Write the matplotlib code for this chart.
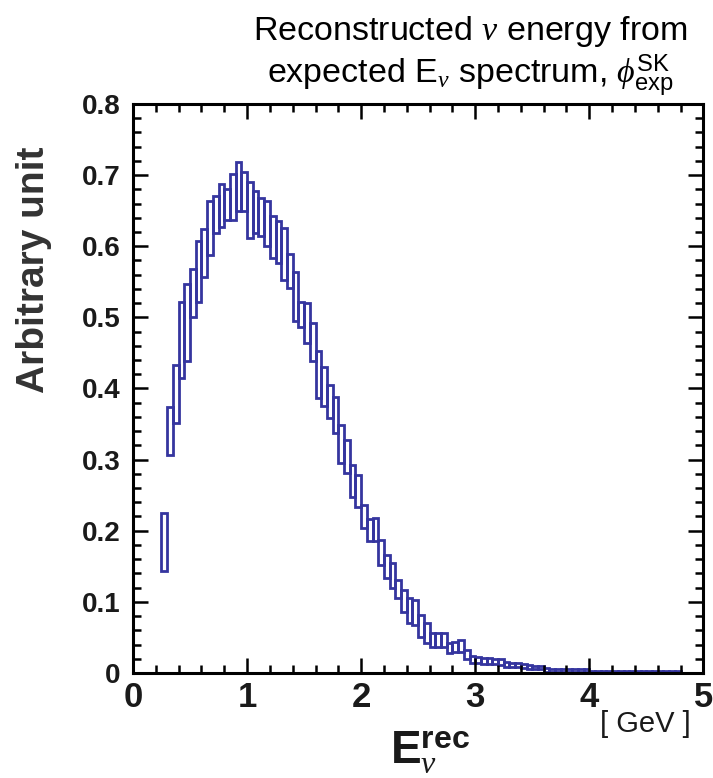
import numpy as np
import matplotlib
matplotlib.use("Agg")
import matplotlib.pyplot as plt
from matplotlib.ticker import MultipleLocator

# bin low edges (0.05 GeV bins), upper and lower edge of each error box
bin_lo = np.round(np.arange(0.25, 4.80, 0.05), 2)
bin_width = 0.05

upper = [
    0.225, 0.374, 0.433, 0.522, 0.547, 0.568, 0.607, 0.624, 0.663, 0.670,
    0.688, 0.680, 0.702, 0.718, 0.705,
    0.690, 0.678, 0.668, 0.664, 0.642, 0.635, 0.625, 0.589, 0.564, 0.522,
    0.520, 0.492, 0.452, 0.430, 0.405, 0.388, 0.349, 0.328, 0.293, 0.278,
    0.236, 0.217, 0.218, 0.187, 0.166, 0.154, 0.131, 0.117, 0.105, 0.103,
    0.082, 0.070, 0.056, 0.056, 0.056, 0.042, 0.044, 0.046, 0.032, 0.024,
    0.022, 0.021, 0.021, 0.020, 0.019, 0.016, 0.014, 0.014, 0.013, 0.011,
    0.010, 0.010, 0.007, 0.006, 0.006, 0.006, 0.005, 0.005, 0.005, 0.005,
    0.003, 0.003, 0.003, 0.003, 0.003, 0.003, 0.003, 0.003, 0.003, 0.003,
    0.003, 0.003, 0.003, 0.003, 0.003, 0.003,
]
lower = [
    0.143, 0.306, 0.351, 0.415, 0.439, 0.500, 0.521, 0.556, 0.588, 0.618,
    0.627, 0.637, 0.637, 0.649, 0.649,
    0.612, 0.619, 0.615, 0.600, 0.584, 0.576, 0.553, 0.541, 0.495, 0.487,
    0.464, 0.438, 0.386, 0.375, 0.358, 0.337, 0.295, 0.281, 0.248, 0.233,
    0.204, 0.186, 0.185, 0.152, 0.133, 0.119, 0.105, 0.086, 0.070, 0.068,
    0.051, 0.042, 0.037, 0.037, 0.037, 0.028, 0.030, 0.029, 0.019, 0.014,
    0.014, 0.013, 0.013, 0.012, 0.011, 0.009, 0.008, 0.008, 0.007, 0.006,
    0.006, 0.005, 0.002, 0.002, 0.002, 0.002, 0.002, 0.002, 0.002, 0.002,
    0.001, 0.001, 0.001, 0.001, 0.001, 0.001, 0.001, 0.001, 0.001, 0.001,
    0.001, 0.001, 0.001, 0.001, 0.001, 0.001,
]

x_ticks = [0, 1, 2, 3, 4, 5]
y_ticks = [0, 0.1, 0.2, 0.3, 0.4, 0.5, 0.6, 0.7, 0.8]
y_ticklabels = ["0", "0.1", "0.2", "0.3", "0.4", "0.5", "0.6", "0.7", "0.8"]

plt.rcParams["font.family"] = ["Liberation Sans", "DejaVu Sans"]
plt.rcParams["mathtext.fontset"] = "custom"
plt.rcParams["mathtext.rm"] = "Liberation Sans"
plt.rcParams["mathtext.it"] = "Liberation Serif:italic"
plt.rcParams["mathtext.bf"] = "Liberation Sans:bold"

line_col = "#35359f"
txt_col = "#1a1a1a"

fig = plt.figure(figsize=(7.13, 7.78), dpi=100)
ax = fig.add_axes([0.1865, 0.135, 0.80, 0.7314])

hi = np.array(upper)
lo = np.array(lower)
ax.bar(bin_lo, hi - lo, bottom=lo, width=bin_width, align="edge",
       fill=False, edgecolor=line_col, linewidth=2.0)

ax.set_xlim(0, 5)
ax.set_ylim(0, 0.8)
ax.set_xticks(x_ticks)
ax.set_xticklabels([str(t) for t in x_ticks], fontsize=25, fontweight="bold",
                   color=txt_col)
ax.set_yticks(y_ticks)
ax.set_yticklabels(y_ticklabels, fontsize=20, fontweight="bold", color=txt_col)
ax.xaxis.set_minor_locator(MultipleLocator(0.2))
ax.yaxis.set_minor_locator(MultipleLocator(0.02))
ax.tick_params(which="both", direction="in", top=True, right=True, width=1.8)
ax.tick_params(which="major", length=11)
ax.tick_params(which="minor", length=6)
ax.tick_params(axis="y", pad=9)
ax.tick_params(axis="x", pad=6)
for s in ax.spines.values():
    s.set_linewidth(2.2)

fig.text(0.048, 0.653, "Arbitrary unit", rotation=90, ha="center", va="center",
         fontsize=28, fontweight="bold", color="#333333")

# title, two lines
fig.text(0.660, 0.960, r"Reconstructed $\nu$ energy from", ha="center",
         va="center", fontsize=24.5)
fig.text(0.660, 0.903, r"expected E$_{\nu}$ spectrum, $\phi_{\mathrm{exp}}^{\mathrm{SK}}$",
         ha="center", va="center", fontsize=24.5)

fig.text(0.603, 0.033, r"$\mathbf{E}_{\nu}^{\mathbf{rec}}$", ha="center",
         va="center", fontsize=33, color=txt_col)
fig.text(0.905, 0.070, "[ GeV ]", ha="center", va="center", fontsize=21,
         color=txt_col)

fig.savefig("out.png", dpi=100)
